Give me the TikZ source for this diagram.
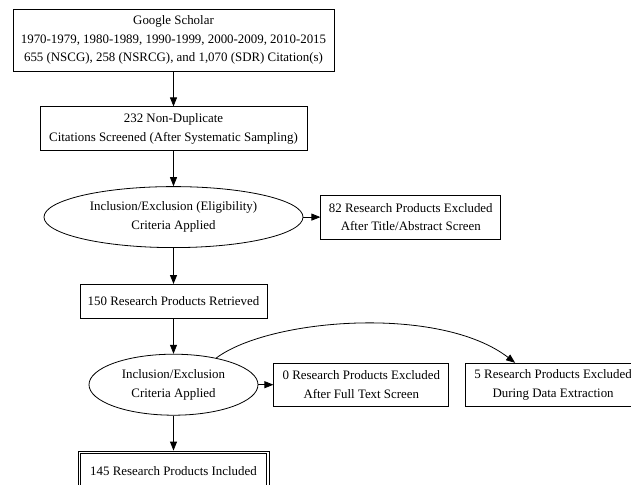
\documentclass[tikz,border=0pt]{standalone}
\usepackage{fontspec}
\setmainfont{Liberation Serif}
\usetikzlibrary{arrows.meta, shapes.geometric, positioning}

\begin{document}
\begin{tikzpicture}[x=1pt, y=1pt,
        n/.style={draw, line width=0.8pt, inner sep=0, align=center, font=\fontsize{12.9}{18.5}\selectfont},
        el/.style={n, ellipse},
        e/.style={-{Triangle[length=9pt, width=7pt]}, line width=0.8pt}]
        \clip (0,0) rectangle (631,-484);

        % main column
        \draw node[n, minimum width=321pt, minimum height=62pt] (scholar) at (173.5,-40)
          {Google Scholar\\1970-1979, 1980-1989, 1990-1999, 2000-2009, 2010-2015\\655 (NSCG), 258 (NSRCG), and 1,070 (SDR) Citation(s)};
        \draw node[n, minimum width=267pt, minimum height=44pt, below=35pt of scholar] (screened)
          {232 Non-Duplicate\\Citations Screened (After Systematic Sampling)};
        \draw node[el, minimum width=259pt, minimum height=61pt, below=35pt of screened] (crit1)
          {Inclusion/Exclusion (Eligibility)\\Criteria Applied};
        \draw node[n, minimum width=187pt, minimum height=34pt, below=36pt of crit1] (retrieved)
          {150 Research Products Retrieved};
        \draw node[el, minimum width=169pt, minimum height=61pt, below=35pt of retrieved] (crit2)
          {Inclusion/Exclusion\\Criteria Applied};
        \draw node[n, minimum width=191pt, minimum height=40pt, below=35pt of crit2] (included)
          {145 Research Products Included};
        \draw[line width=0.8pt] ([shift={(3pt,-3pt)}]included.north west) rectangle ([shift={(-3pt,3pt)}]included.south east);

        % excluded boxes
        \draw node[n, minimum width=180pt, minimum height=44pt, right=17pt of crit1] (excl1)
          {82 Research Products Excluded\\After Title/Abstract Screen};
        \draw node[n, minimum width=175pt, minimum height=43pt, right=15pt of crit2] (excl2)
          {0 Research Products Excluded\\After Full Text Screen};
        \draw node[n, minimum width=175pt, minimum height=43pt, right=16pt of excl2] (excl3)
          {5 Research Products Excluded\\During Data Extraction};

        \draw[e] (scholar) -- (screened);
        \draw[e] (screened) -- (crit1);
        \draw[e] (crit1) -- (excl1);
        \draw[e] (crit1) -- (retrieved);
        \draw[e] (retrieved) -- (crit2);
        \draw[e] (crit2) -- (excl2);
        \draw[e] (crit2) -- (included);
        \draw[e] (crit2.32) .. controls (270,-318) and (440,-305) .. ([xshift=-38pt]excl3.north);
\end{tikzpicture}
\end{document}
